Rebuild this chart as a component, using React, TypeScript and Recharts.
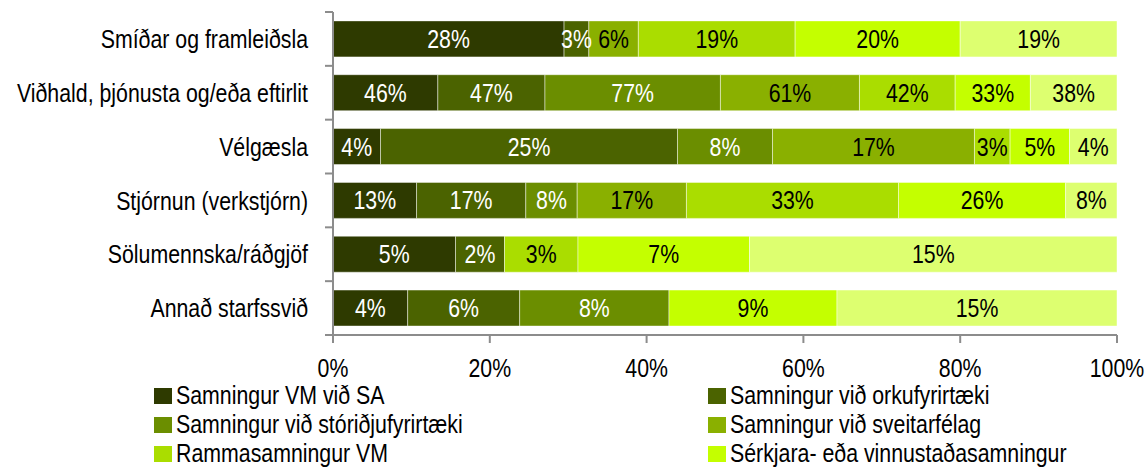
import { Bar, BarChart, LabelList, Legend, XAxis, YAxis } from "recharts";

const CATEGORIES = [
  "Smíðar og framleiðsla",
  "Viðhald, þjónusta og/eða eftirlit",
  "Vélgæsla",
  "Stjórnun (verkstjórn)",
  "Sölumennska/ráðgjöf",
  "Annað starfssvið",
];

const SERIES_NAMES = [
  "Samningur VM við SA",
  "Samningur við orkufyrirtæki",
  "Samningur við stóriðjufyrirtæki",
  "Samningur við sveitarfélag",
  "Rammasamningur VM",
  "Sérkjara- eða vinnustaðasamningur",
  "Annað",
];

// one array per series, in category order (percent labels as shown)
const S1 = [28, 46, 4, 13, 5, 4];
const S2 = [3, 47, 25, 17, 2, 6];
const S3 = [0, 77, 8, 8, 0, 8];
const S4 = [6, 61, 17, 17, 0, 0];
const S5 = [19, 42, 3, 33, 3, 0];
const S6 = [20, 33, 5, 26, 7, 9];
const S7 = [19, 38, 4, 8, 15, 15];

const X_TICKS = [0, 0.2, 0.4, 0.6, 0.8, 1];

const COLORS = ["#2E3A00", "#4B6300", "#6B8E00", "#8AB000", "#AADD00", "#C4FF00", "#DDFF70"];
const LABEL_COLORS = ["#fff", "#fff", "#fff", "#000", "#000", "#000", "#000"];
const KEYS = ["s1", "s2", "s3", "s4", "s5", "s6", "s7"];
const SERIES = [S1, S2, S3, S4, S5, S6, S7];
const LEGEND_COUNT = 6; // last series' legend entry falls outside the picture

const FONT = '"Liberation Sans", Arial, sans-serif';
const FS = 26;
const SX = 0.82; // no narrow font installed, squeeze horizontally
const AXIS = "#8c8c8c";
const AXIS_X = 333;

const data = CATEGORIES.map((name, i) => {
  const row: Record<string, any> = { name };
  KEYS.forEach((k, j) => (row[k] = SERIES[j][i]));
  return row;
});

function NarrowText({ x, y, anchor = "middle", dy = "0.35em", fill = "#000", children }: any) {
  return (
    <g transform={`translate(${x},${y}) scale(${SX},1)`}>
      <text x={0} y={0} dy={dy} textAnchor={anchor} fontSize={FS} fontFamily={FONT} fill={fill}>
        {children}
      </text>
    </g>
  );
}

function CategoryTick({ y, payload, index, visibleTicksCount }: any) {
  const half = payload?.offset ?? 27;
  return (
    <g>
      <line x1={AXIS_X - 8} x2={AXIS_X} y1={y - half} y2={y - half} stroke={AXIS} strokeWidth={2} />
      {index === visibleTicksCount - 1 && (
        <line x1={AXIS_X - 8} x2={AXIS_X} y1={y + half} y2={y + half} stroke={AXIS} strokeWidth={2} />
      )}
      <NarrowText x={AXIS_X - 25} y={y} anchor="end">
        {payload.value}
      </NarrowText>
    </g>
  );
}

function PctTick({ x, y, payload }: any) {
  return (
    <NarrowText x={x} y={y} dy="0.71em">
      {`${Math.round(payload.value * 100)}%`}
    </NarrowText>
  );
}

const makeLabel = (color: string) => (props: any) => {
  const { x, y, width, height, value } = props;
  if (!value) return null;
  return (
    <NarrowText x={x + width / 2} y={y + height / 2} fill={color}>
      {`${value}%`}
    </NarrowText>
  );
};

function LegendGrid() {
  return (
    <div
      style={{
        display: "grid",
        gridTemplateColumns: "554px 400px",
        height: 87,
        fontFamily: FONT,
        fontSize: FS,
        color: "#000",
      }}
    >
      {SERIES_NAMES.slice(0, LEGEND_COUNT).map((name, j) => (
        <div key={name} style={{ display: "flex", alignItems: "center", height: 29, whiteSpace: "nowrap" }}>
          <span style={{ width: 18, height: 16, background: COLORS[j], marginRight: 4, flex: "none" }} />
          <span
            style={{
              display: "inline-block",
              lineHeight: "29px",
              transform: `scaleX(${SX})`,
              transformOrigin: "left center",
            }}
          >
            {name}
          </span>
        </div>
      ))}
    </div>
  );
}

export default function App() {
  return (
    <div style={{ width: 1147, height: 468, background: "#fff" }}>
      <style>{"body{margin:0}"}</style>
      <BarChart
        width={1147}
        height={468}
        data={data}
        layout="vertical"
        stackOffset="expand"
        barCategoryGap="16.5%"
        margin={{ top: 12, right: 30, left: 0, bottom: 0 }}
      >
        <XAxis
          type="number"
          domain={[0, 1]}
          ticks={X_TICKS}
          axisLine={{ stroke: AXIS, strokeWidth: 2 }}
          tickLine={{ stroke: AXIS, strokeWidth: 2 }}
          tickSize={8}
          tickMargin={16}
          height={46}
          tick={<PctTick />}
        />
        <YAxis
          type="category"
          dataKey="name"
          width={AXIS_X}
          axisLine={{ stroke: AXIS, strokeWidth: 2 }}
          tickLine={false}
          tick={<CategoryTick />}
          interval={0}
        />
        <Legend verticalAlign="bottom" content={<LegendGrid />} wrapperStyle={{ left: 154, width: 960, bottom: 0 }} />
        {KEYS.map((k, j) => (
          <Bar
            key={k}
            dataKey={k}
            name={SERIES_NAMES[j]}
            stackId="a"
            fill={COLORS[j]}
            stroke="rgba(255,255,255,0.45)"
            strokeWidth={1}
            isAnimationActive={false}
          >
            <LabelList dataKey={k} content={makeLabel(LABEL_COLORS[j])} />
          </Bar>
        ))}
      </BarChart>
    </div>
  );
}
